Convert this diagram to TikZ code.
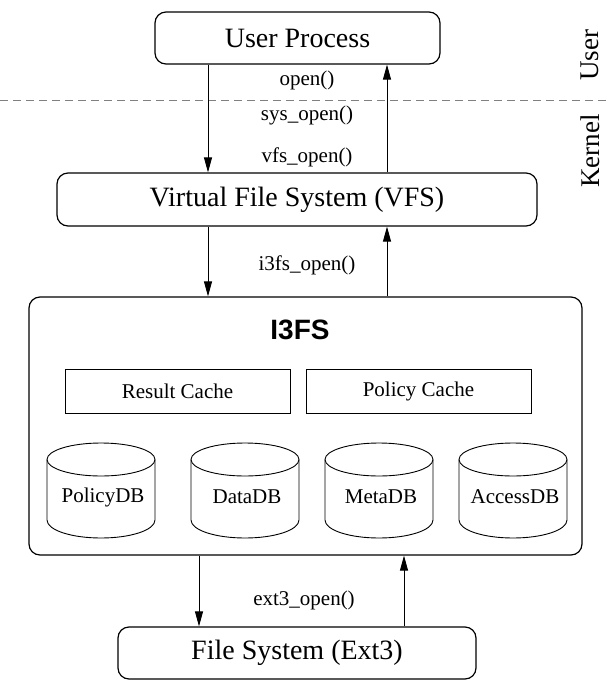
\documentclass[tikz,border=0pt]{standalone}
\usepackage{fontspec}
\setmainfont{Liberation Serif}
\newfontfamily\headfont{Liberation Sans}
\usetikzlibrary{arrows.meta}

\begin{document}
\begin{tikzpicture}[x=1pt,y=-1pt,
  layer/.style={draw, rounded corners=11pt, line width=1.2pt, inner sep=0pt,
    font=\fontsize{28}{32}\selectfont},
  cachebox/.style={draw, line width=0.9pt, inner sep=0pt, minimum width=225pt,
    minimum height=44pt, font=\fontsize{21}{24}\selectfont},
  call/.style={font=\fontsize{21}{24}\selectfont, inner sep=0pt},
  side/.style={font=\fontsize{27}{30}\selectfont, rotate=90, inner sep=0pt},
  flow/.style={line width=0.9pt, -{Triangle[length=15pt,width=8pt]}},
  db/.pic={
    \draw[line width=0.9pt] (0,16.5) ellipse [x radius=54, y radius=16.5];
    \draw[line width=0.9pt] (-54,16.5) -- (-54,77)
      .. controls (-54,87) and (-30,95) .. (0,95)
      .. controls (30,95) and (54,87) .. (54,77) -- (54,16.5);
    \node[call] (-label) at (2,54) {#1};
  }]
\useasboundingbox (0,0) rectangle (608,681);

% layers
\node[layer, minimum width=285pt, minimum height=52pt] (user) at (297.5,38) {User Process};
\node[layer, minimum width=480pt, minimum height=53pt] (vfs) at (297,199.5) {Virtual File System (VFS)};
\node[layer, minimum width=553pt, minimum height=258pt] (i3fs) at (305.5,426) {};
\node[layer, minimum width=358pt, minimum height=52pt] (ext3) at (297,653) {File System (Ext3)};

% user / kernel boundary
\coordinate (bl) at (0,100);
\coordinate (br) at (608,100);
\draw[gray, line width=1pt, dash pattern=on 8pt off 5pt] (bl) -- (br);
\node[side] (userlbl) at (590,55) {User};
\node[side] (kernlbl) at (590,151) {Kernel};

% inside I3FS
\node[font=\headfont\bfseries\fontsize{28}{32}\selectfont, inner sep=0pt] (i3fslbl) at (300,330) {I3FS};
\node[cachebox] (rcache) at (177.5,391) {Result Cache};
\node[cachebox] (pcache) at (418.5,391) {Policy Cache};
\pic (pdb) at (101,443) {db=PolicyDB};
\pic (ddb) at (245,443) {db=DataDB};
\pic (mdb) at (379,443) {db=MetaDB};
\pic (adb) at (513,443) {db=AccessDB};

% call paths
\coordinate (xa) at (208,0);
\coordinate (xb) at (387,0);
\coordinate (xc) at (199,0);
\coordinate (xd) at (404,0);
\draw[flow] (user.south -| xa) -- (vfs.north -| xa);
\draw[flow] (vfs.north -| xb) -- (user.south -| xb);
\draw[flow] (vfs.south -| xa) -- (i3fs.north -| xa);
\draw[flow] (i3fs.north -| xb) -- (vfs.south -| xb);
\draw[flow] (i3fs.south -| xc) -- (ext3.north -| xc);
\draw[flow] (ext3.north -| xd) -- (i3fs.south -| xd);

\node[call] (open) at (307,80) {open()};
\node[call] (sysopen) at (307,115) {sys\_open()};
\node[call] (vfsopen) at (307,157) {vfs\_open()};
\node[call] (i3fsopen) at (307,265) {i3fs\_open()};
\node[call] (ext3open) at (304,600) {ext3\_open()};
\end{tikzpicture}
\end{document}
